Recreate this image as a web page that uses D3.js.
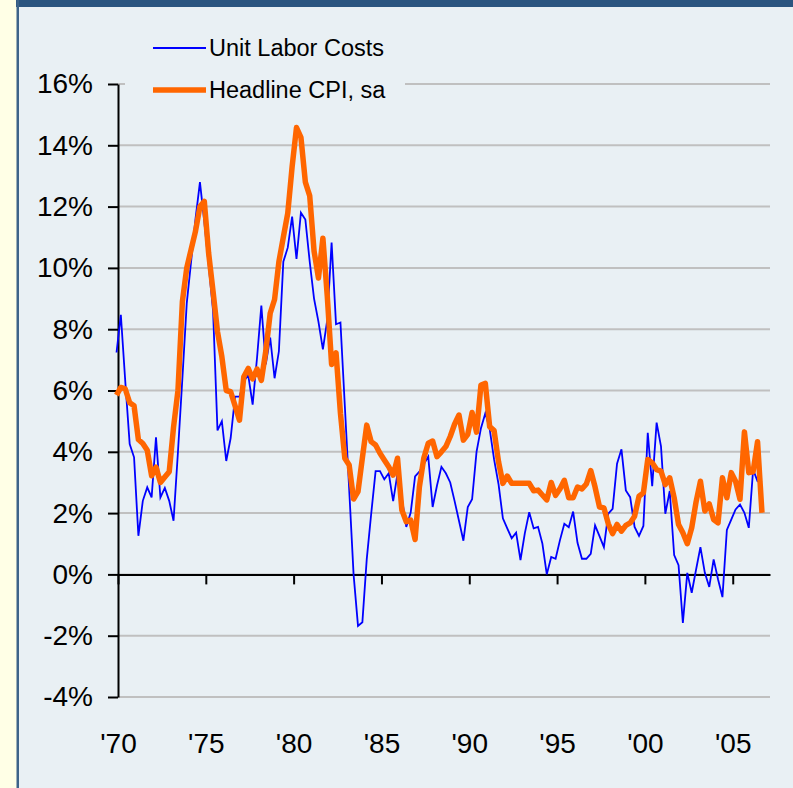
<!DOCTYPE html>
<html>
<head>
<meta charset="utf-8">
<script src="https://cdn.jsdelivr.net/npm/d3@7"></script>
<style>
  body { margin: 0; background: #ffffe6; }
</style>
</head>
<body>
<div id="chart"></div>
<script>
// quarterly, year over year %, first point is Q4 1969 (plotted at Dec 1969)
const firstMonth = new Date(1969, 11, 1);

const unitLaborCosts = [
  7.24, 8.47, 6.3, 4.25, 3.82, 1.26, 2.4, 2.84, 2.51, 4.47, 2.51, 2.82,
  2.4, 1.75, 4.0, 6.4, 8.85, 10.2, 11.6, 12.8, 11.5, 10.1, 8.6, 4.7,
  5.0, 3.7, 4.45, 5.8, 5.8, 6.3, 6.5, 5.54, 7.06, 8.77, 6.85, 7.73,
  6.4, 7.28, 10.2, 10.66, 11.67, 10.29, 11.8, 11.58, 10.2, 9.0, 8.24, 7.34,
  8.3, 10.83, 8.16, 8.22, 5.5, 2.8, 0.0, -1.68, -1.56, 0.5, 1.97, 3.37,
  3.37, 3.1, 3.3, 2.39, 3.29, 2.5, 1.55, 2.02, 3.2, 3.35, 3.6, 3.84,
  2.2, 2.9, 3.51, 3.3, 3.0, 2.4, 1.75, 1.1, 2.2, 2.45, 4.0, 4.77,
  5.26, 4.75, 3.75, 2.95, 1.83, 1.5, 1.18, 1.36, 0.47, 1.34, 2.03, 1.5,
  1.55, 1.01, 0.0, 0.57, 0.51, 1.11, 1.65, 1.54, 2.05, 1.03, 0.51, 0.51,
  0.67, 1.6, 1.25, 0.89, 1.98, 2.14, 3.61, 4.08, 2.74, 2.52, 1.55, 1.26,
  1.58, 4.62, 2.88, 4.95, 4.18, 1.98, 2.72, 0.63, 0.3, -1.58, 0.05, -0.6,
  0.16, 0.89, 0.05, -0.41, 0.49, -0.16, -0.74, 1.45, 1.79, 2.12, 2.28, 2.01,
  1.52, 3.42, 3.04, 3.0
];

const headlineCPI = [
  5.85, 6.1, 6.05, 5.6, 5.5, 4.4, 4.27, 4.05, 3.22, 3.5, 3.0, 3.18,
  3.35, 4.8, 6.0, 8.9, 10.0, 10.6, 11.2, 12.0, 12.17, 10.48, 9.23, 7.92,
  7.1, 6.0, 5.96, 5.5, 5.03, 6.45, 6.72, 6.38, 6.7, 6.33, 7.28, 8.52,
  8.97, 10.2, 11.0, 11.78, 13.3, 14.58, 14.26, 12.8, 12.35, 10.55, 9.67, 10.97,
  9.08, 6.85, 7.23, 5.26, 3.79, 3.57, 2.46, 2.7, 3.8, 4.87, 4.33, 4.22,
  3.95, 3.73, 3.51, 3.24, 3.79, 2.1, 1.72, 1.77, 1.14, 2.86, 3.8, 4.28,
  4.35, 3.84, 4.0, 4.17, 4.5, 4.9, 5.2, 4.38, 4.57, 5.28, 4.64, 6.18,
  6.23, 4.82, 4.69, 3.68, 2.97, 3.21, 2.97, 2.97, 2.97, 2.97, 2.97, 2.73,
  2.75, 2.59, 2.43, 3.0, 2.58, 2.79, 3.07, 2.5, 2.5, 2.85, 2.79, 2.95,
  3.39, 2.85, 2.2, 2.17, 1.65, 1.33, 1.63, 1.41, 1.6, 1.68, 1.9, 2.55,
  2.66, 3.75, 3.64, 3.42, 3.37, 2.93, 3.15, 2.5, 1.63, 1.36, 1.0, 1.52,
  2.37, 3.04, 2.07, 2.3, 1.79, 1.68, 3.15, 2.5, 3.32, 3.04, 2.45, 4.65,
  3.32, 3.35, 4.33, 2.01
];

const yTicks = [-4, -2, 0, 2, 4, 6, 8, 10, 12, 14, 16];
const xTickYears = [1970, 1975, 1980, 1985, 1990, 1995, 2000, 2005];
const seriesNames = ["Unit Labor Costs", "Headline CPI, sa"];

const W = 793, H = 788;
const panelColor = "#e9f0f4";

// plot area
var margin = { top: 84, left: 118 },
    width = 770 - margin.left,
    height = 697 - margin.top;

let x = d3.scaleTime()
    .domain([new Date(1970, 0, 1), new Date(2007, 1, 15)])
    .range([0, width]);

let y = d3.scaleLinear()
    .domain([-4, 16])
    .range([height, 0]);

let dates = unitLaborCosts.map((d, i) => d3.timeMonth.offset(firstMonth, 3 * i));

let svg = d3.select("#chart").append("svg")
    .attr("width", W)
    .attr("height", H)
    .style("display", "block")
    .style("font-family", "'Liberation Sans', Arial, sans-serif");

svg.append("style").text(`
    .grid line { stroke: #c0c0c0; stroke-width: 2px; }
    .axis path, .axis line { stroke: #000; stroke-width: 2px; }
    .axis text { fill: #000; font-size: 28px; }
`);

// frame
svg.append("rect").attr("width", W).attr("height", H).attr("fill", "#ffffe6");
svg.append("rect").attr("x", 18).attr("width", W - 18).attr("height", H).attr("fill", panelColor);
svg.append("rect").attr("x", 16).attr("y", 0).attr("width", W - 16).attr("height", 7).attr("fill", "#2b5580");
svg.append("rect").attr("x", 16.5).attr("y", 0).attr("width", 2.5).attr("height", H).attr("fill", "#3d6389");

let graph = svg.append("g")
    .attr("transform", "translate(" + margin.left + "," + margin.top + ")");

graph.append("g")
    .attr("class", "grid")
    .selectAll("line")
    .data(yTicks)
    .enter().append("line")
    .attr("x1", 0)
    .attr("x2", width)
    .attr("y1", d => y(d))
    .attr("y2", d => y(d));

// legend box hides the top gridline
svg.append("rect")
    .attr("x", 125).attr("y", 28)
    .attr("width", 280).attr("height", 80)
    .attr("fill", panelColor);

graph.append("g")
    .attr("class", "axis axis--y")
    .call(d3.axisLeft(y)
        .tickValues(yTicks)
        .tickSize(10)
        .tickSizeOuter(0)
        .tickPadding(15)
        .tickFormat(d => d + "%"));

graph.append("g")
    .attr("class", "axis axis--x")
    .attr("transform", "translate(0," + y(0) + ")")
    .call(d3.axisBottom(x)
        .tickValues(xTickYears.map(yr => new Date(yr, 0, 1)))
        .tickSize(10)
        .tickSizeOuter(0)
        .tickFormat(""));

// year labels sit below the plot, not on the zero line
graph.append("g")
    .attr("class", "axis axis--xlabels")
    .attr("transform", "translate(0," + height + ")")
    .call(d3.axisBottom(x)
        .tickValues(xTickYears.map(yr => new Date(yr, 0, 1)))
        .tickSize(0)
        .tickPadding(36)
        .tickFormat(d => "'" + d3.timeFormat("%y")(d)))
    .call(g => g.select(".domain").remove());

let line = d3.line()
    .x(d => x(d.date))
    .y(d => y(d.value));

graph.append("path")
    .datum(unitLaborCosts.map((v, i) => ({ date: dates[i], value: v })))
    .attr("fill", "none")
    .attr("stroke", "#0000ff")
    .attr("stroke-width", 1.8)
    .attr("d", line);

graph.append("path")
    .datum(headlineCPI.map((v, i) => ({ date: dates[i], value: v })))
    .attr("fill", "none")
    .attr("stroke", "#ff6600")
    .attr("stroke-width", 5.5)
    .attr("stroke-linejoin", "round")
    .attr("d", line);

// legend
let legend = svg.append("g");
let legendRows = [
    { name: seriesNames[0], color: "#0000ff", w: 1.8, y: 48 },
    { name: seriesNames[1], color: "#ff6600", w: 5.5, y: 90 }
];
legendRows.forEach(r => {
    legend.append("line")
        .attr("x1", 153).attr("x2", 206)
        .attr("y1", r.y).attr("y2", r.y)
        .attr("stroke", r.color)
        .attr("stroke-width", r.w);
    legend.append("text")
        .attr("x", 209)
        .attr("y", r.y + 8)
        .attr("font-size", "23.5px")
        .attr("fill", "#000")
        .text(r.name);
});
</script>
</body>
</html>
